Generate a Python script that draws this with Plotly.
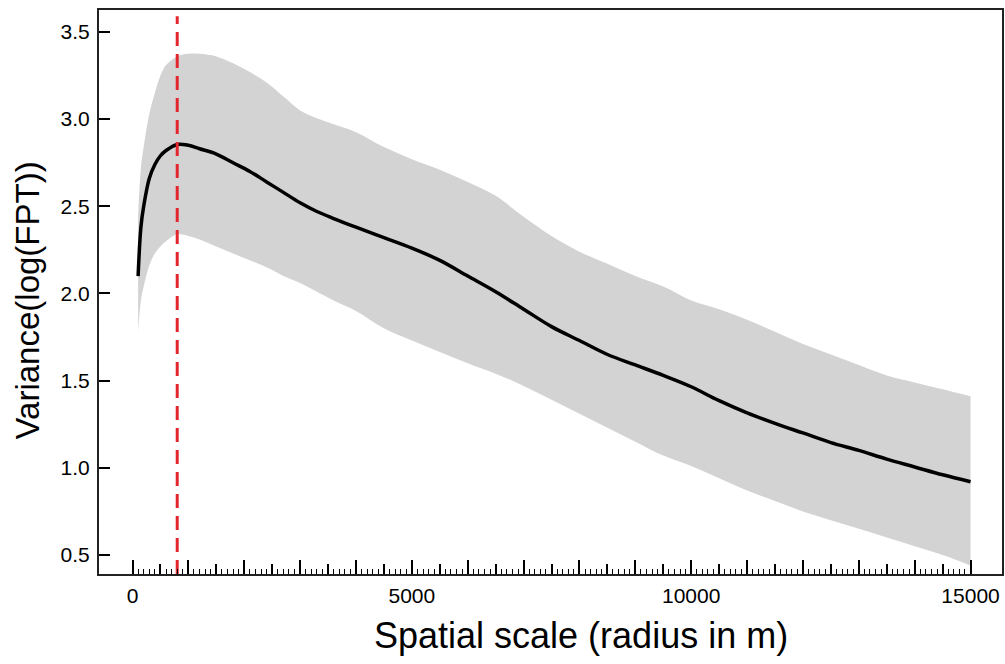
import plotly.graph_objects as go

# ---- data ----
radius = [100, 150, 200, 300, 400, 500, 600, 800, 1000, 1200, 1500, 1800, 2100, 2400, 2700,
          3000, 3300, 3600, 4000, 4500, 5000, 5500, 6000, 6500, 7000, 7500, 8000, 8500, 9000,
          9500, 10000, 10500, 11000, 11500, 12000, 12500, 13000, 13500, 14000, 14500, 15000]
mean_var = [2.10, 2.38, 2.50, 2.66, 2.74, 2.79, 2.82, 2.855, 2.85, 2.83, 2.80, 2.75, 2.70, 2.64, 2.58,
            2.52, 2.47, 2.43, 2.38, 2.32, 2.26, 2.19, 2.10, 2.01, 1.91, 1.81, 1.73, 1.65, 1.59,
            1.53, 1.465, 1.385, 1.315, 1.255, 1.20, 1.145, 1.10, 1.05, 1.005, 0.96, 0.92]
upper_var = [2.45, 2.72, 2.84, 3.03, 3.15, 3.25, 3.31, 3.36, 3.375, 3.375, 3.36, 3.32, 3.27, 3.21, 3.13,
             3.05, 3.005, 2.97, 2.925, 2.84, 2.77, 2.71, 2.64, 2.56, 2.44, 2.33, 2.24, 2.17, 2.10,
             2.04, 1.96, 1.91, 1.85, 1.78, 1.71, 1.65, 1.59, 1.53, 1.49, 1.45, 1.41]
lower_var = [1.78, 1.96, 2.04, 2.16, 2.23, 2.27, 2.30, 2.34, 2.33, 2.31, 2.27, 2.23, 2.19, 2.15, 2.10,
             2.06, 2.01, 1.96, 1.90, 1.80, 1.73, 1.665, 1.60, 1.54, 1.47, 1.39, 1.31, 1.23, 1.15,
             1.07, 1.01, 0.94, 0.87, 0.81, 0.75, 0.70, 0.65, 0.60, 0.55, 0.50, 0.44]
peak_radius = 800

x_range = [-600, 15563]
y_range = [0.391, 3.626]
y_ticks = [0.5, 1.0, 1.5, 2.0, 2.5, 3.0, 3.5]
x_major = list(range(0, 15001, 1000))
x_labels = [str(v) if v % 5000 == 0 else "" for v in x_major]
x_mid = list(range(500, 15000, 1000))
x_minor = [v for v in range(0, 15001, 100) if v % 1000 != 0]

FONT = "Liberation Sans, Arial, sans-serif"

fig = go.Figure()
fig.add_trace(go.Scatter(x=radius, y=upper_var, mode="lines",
                         line=dict(width=0, shape="spline", color="#d3d3d3"),
                         showlegend=False, hoverinfo="skip"))
fig.add_trace(go.Scatter(x=radius, y=lower_var, mode="lines", fill="tonexty",
                         fillcolor="#d3d3d3",
                         line=dict(width=0, shape="spline", color="#d3d3d3"),
                         showlegend=False, hoverinfo="skip"))
fig.add_trace(go.Scatter(x=radius, y=mean_var, mode="lines",
                         line=dict(width=3.5, color="black", shape="spline"),
                         showlegend=False))
fig.add_trace(go.Scatter(x=[peak_radius, peak_radius], y=[y_range[0], 3.59], mode="lines",
                         line=dict(width=3, color="#e3262d", dash="14px,8px"),
                         showlegend=False))
# invisible trace for the mid-tick overlay axis
fig.add_trace(go.Scatter(x=[x_range[0]], y=[y_range[0]], xaxis="x2", mode="markers",
                         marker=dict(opacity=0), showlegend=False, hoverinfo="skip"))

fig.update_layout(
    width=1005, height=664,
    margin=dict(l=99, r=3, t=10, b=90, autoexpand=False),
    paper_bgcolor="white", plot_bgcolor="white",
    font=dict(family=FONT, color="black"),
    xaxis=dict(range=x_range, showgrid=False, zeroline=False, automargin=False,
               showline=True, linecolor="#222", linewidth=2, mirror=True,
               tickmode="array", tickvals=x_major, ticktext=x_labels,
               ticks="inside", ticklen=14, tickwidth=1.6, tickcolor="black",
               tickfont=dict(size=21, family=FONT), ticklabelstandoff=2,
               minor=dict(tickmode="array", tickvals=x_minor, ticks="inside",
                          ticklen=5, tickwidth=1.3, tickcolor="black", showgrid=False)),
    xaxis2=dict(range=x_range, overlaying="x", anchor="y", side="bottom",
                showgrid=False, zeroline=False, showline=False, automargin=False,
                tickmode="array", tickvals=x_mid, showticklabels=False,
                ticks="inside", ticklen=10, tickwidth=1.5, tickcolor="black"),
    yaxis=dict(range=y_range, showgrid=False, zeroline=False, automargin=False,
               showline=True, linecolor="#222", linewidth=2, mirror=True,
               tickmode="array", tickvals=y_ticks, tickformat=".1f",
               ticks="inside", ticklen=11, tickwidth=1.6, tickcolor="black",
               tickfont=dict(size=21, family=FONT), ticklabelstandoff=3),
    annotations=[
        dict(text="Spatial scale (radius in m)", xref="paper", yref="paper",
             x=0.534, y=-0.07, xanchor="center", yanchor="top", showarrow=False,
             font=dict(size=36, family=FONT, color="black")),
        dict(text="Variance(log(FPT))", xref="paper", yref="paper",
             x=-0.057, y=0.485, xanchor="right", yanchor="middle", textangle=-90,
             showarrow=False, font=dict(size=33, family=FONT, color="black")),
    ],
)

fig.write_html("out.html", config={"displayModeBar": False},
               post_script="document.body.style.margin='0';document.body.style.overflow='hidden';")
